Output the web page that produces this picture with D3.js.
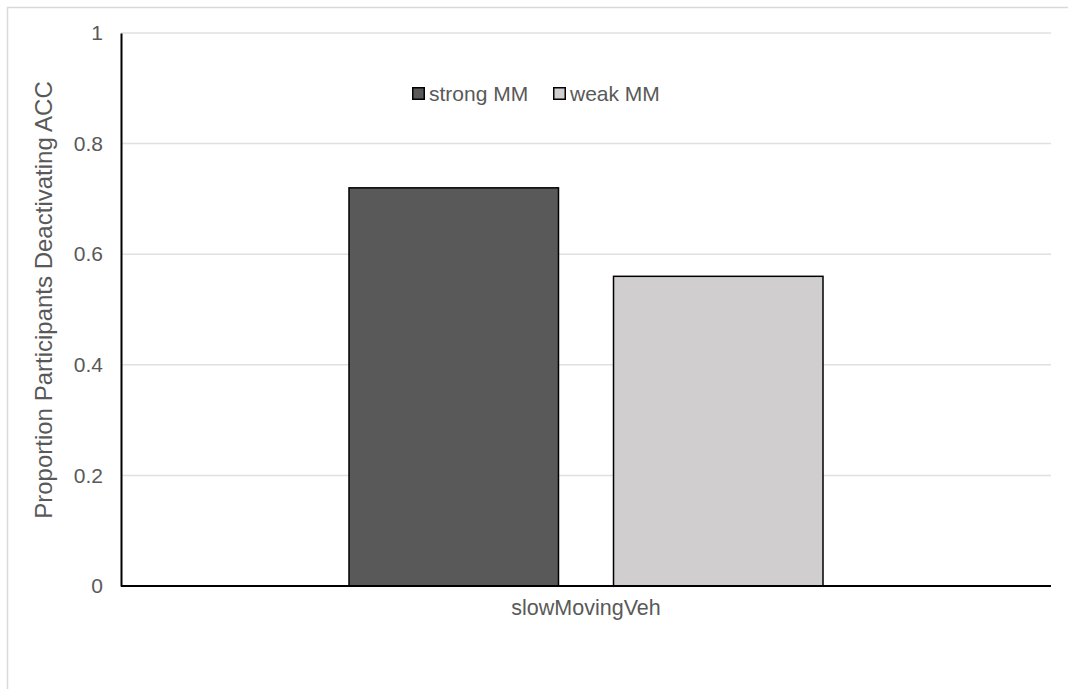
<!DOCTYPE html>
<html>
<head>
<meta charset="utf-8">
<script src="https://cdn.jsdelivr.net/npm/d3@7"></script>
<style>
  html, body { margin: 0; padding: 0; background: #fff; }
  svg { display: block; }
  text { font-family: "Liberation Sans", Arial, sans-serif; fill: #595959; }
</style>
</head>
<body>
<svg id="chart" width="1068" height="689"></svg>
<script>
const categories = ["slowMovingVeh"];
const seriesNames = ["strong MM", "weak MM"];
const strongValues = [0.72];
const weakValues = [0.56];
const yTicks = [0, 0.2, 0.4, 0.6, 0.8, 1];
const yTickLabels = ["0", "0.2", "0.4", "0.6", "0.8", "1"];
const yTitle = "Proportion Participants Deactivating ACC";
const colors = ["#595959", "#d0cece"];

const svg = d3.select("#chart");
const plot = { left: 121, right: 1051, top: 33, bottom: 586 };

// outer chart border
svg.append("rect")
  .attr("x", 7.5).attr("y", 7.5)
  .attr("width", 1100).attr("height", 800)
  .attr("fill", "#fff").attr("stroke", "#d9d9d9").attr("stroke-width", 1.5);

const y = d3.scaleLinear().domain([0, 1]).range([plot.bottom, plot.top]);
const x0 = d3.scaleBand().domain(categories).range([plot.left, plot.right])
  .paddingInner(0).paddingOuter(0.481);
const x1 = d3.scaleBand().domain(seriesNames).range([0, x0.bandwidth()])
  .paddingInner(0.208).paddingOuter(0);

// gridlines
svg.append("g").selectAll("line")
  .data(yTicks.filter(d => d > 0))
  .join("line")
  .attr("x1", plot.left).attr("x2", plot.right)
  .attr("y1", d => y(d)).attr("y2", d => y(d))
  .attr("stroke", "#e0e0e0").attr("stroke-width", 1.5);

// bars
const data = categories.map((c, i) => ({
  cat: c,
  vals: [strongValues[i], weakValues[i]]
}));
const groups = svg.append("g").selectAll("g")
  .data(data).join("g")
  .attr("transform", d => `translate(${x0(d.cat)},0)`);
groups.selectAll("rect")
  .data(d => d.vals.map((v, j) => ({ name: seriesNames[j], v, j })))
  .join("rect")
  .attr("x", d => x1(d.name))
  .attr("y", d => y(d.v))
  .attr("width", x1.bandwidth())
  .attr("height", d => y(0) - y(d.v))
  .attr("fill", d => colors[d.j])
  .attr("stroke", "#000").attr("stroke-width", 1.5);

// y axis
const yAxis = d3.axisLeft(y).tickValues(yTicks)
  .tickFormat((d, i) => yTickLabels[i]).tickSize(0).tickPadding(18);
const yg = svg.append("g").attr("transform", `translate(${plot.left},0)`).call(yAxis);
yg.select(".domain").attr("stroke", "#000").attr("stroke-width", 2);
yg.selectAll("text").style("font-size", "21px").attr("fill", "#595959")
  .style("font-family", "'Liberation Sans', Arial, sans-serif");

// x axis
const xAxis = d3.axisBottom(x0).tickSize(0).tickPadding(14);
const xg = svg.append("g").attr("transform", `translate(0,${plot.bottom})`).call(xAxis);
xg.select(".domain").attr("stroke", "#000").attr("stroke-width", 2)
  .attr("d", `M${plot.left},0H${plot.right}`);
xg.selectAll("text").style("font-size", "21.5px").attr("fill", "#595959")
  .style("font-family", "'Liberation Sans', Arial, sans-serif");

// y title
svg.append("text")
  .attr("transform", `translate(52,300) rotate(-90)`)
  .attr("text-anchor", "middle")
  .style("font-size", "24px")
  .text(yTitle);

// legend
const legendPos = [412, 553];
const leg = svg.append("g").selectAll("g")
  .data(seriesNames).join("g")
  .attr("transform", (d, i) => `translate(${legendPos[i]},87)`);
leg.append("rect")
  .attr("x", 0.75).attr("y", 0.75).attr("width", 11.5).attr("height", 11.5)
  .attr("fill", (d, i) => colors[i]).attr("stroke", "#000").attr("stroke-width", 1.5);
leg.append("text")
  .attr("x", 17).attr("y", 13.5)
  .style("font-size", "21px")
  .text(d => d);
</script>
</body>
</html>
